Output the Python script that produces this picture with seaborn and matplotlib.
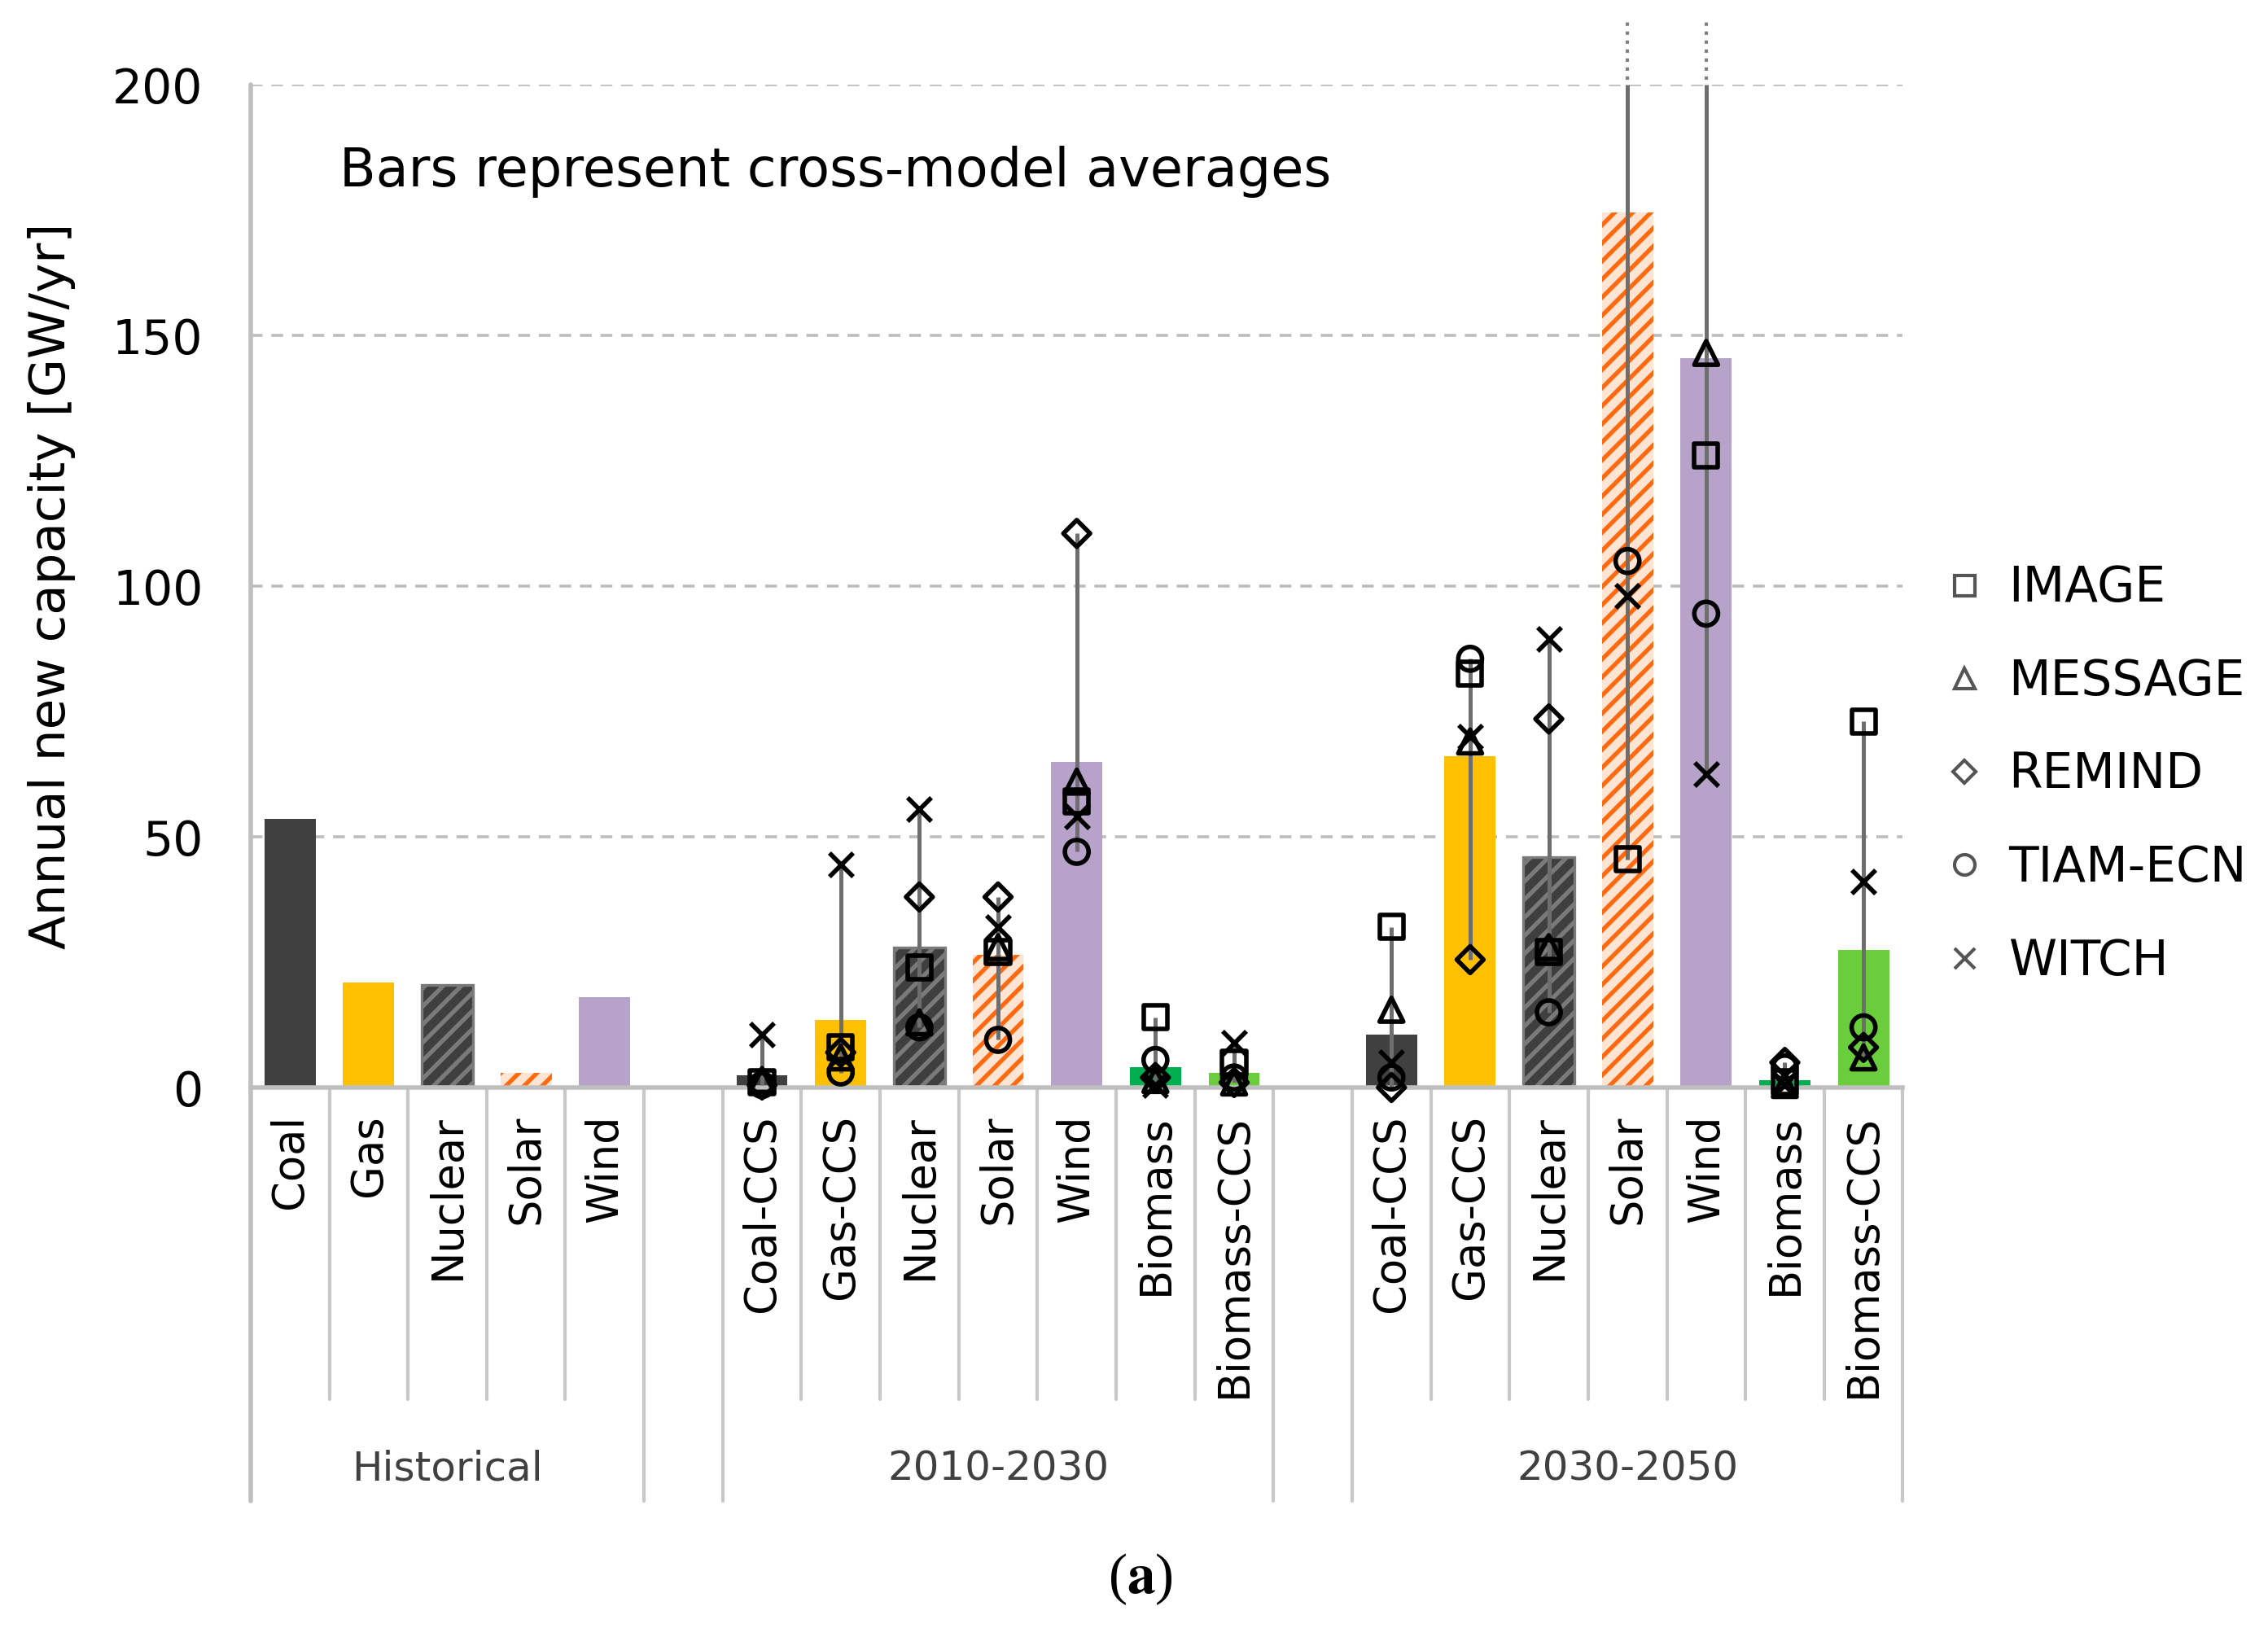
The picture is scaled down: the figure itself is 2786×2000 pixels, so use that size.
import numpy as np
import pandas as pd
import matplotlib
matplotlib.use("Agg")
import matplotlib.pyplot as plt
from matplotlib.lines import Line2D
import seaborn as sns

# categories per group
groups = ["Historical", "2010-2030", "2030-2050"]
hist_techs = ["Coal", "Gas", "Nuclear", "Solar", "Wind"]
scen_techs = ["Coal-CCS", "Gas-CCS", "Nuclear", "Solar", "Wind", "Biomass", "Biomass-CCS"]

# bar values (cross-model averages), GW/yr
hist_avg = [53.5, 21, 20.5, 3, 18]
avg_2030 = [2.5, 13.5, 28, 26.5, 65, 4, 3]
avg_2050 = [10.5, 66, 46, 174.5, 145.5, 1.5, 27.5]

models = ["IMAGE", "MESSAGE", "REMIND", "TIAM-ECN", "WITCH"]
# model values, order of scen_techs
image_2030 = [1, 8, 24, 27, 57, 14, 5]
message_2030 = [1.5, 6, 13, 28, 61, 1.5, 1]
remind_2030 = [0.5, 7, 38, 38, 110.5, 2, 1]
tiam_2030 = [0.5, 3, 12, 9.5, 47, 5.5, 2]
witch_2030 = [10.5, 44.5, 55.5, 32, 54, 0.5, 9]

image_2050 = [32, 82.5, 27, 45.5, 126, 1, 73]
message_2050 = [15.5, 69, 28, 290, 146.5, 0.5, 6]
remind_2050 = [0, 25.5, 73.5, 335, 298, 5, 8]
tiam_2050 = [2, 85.5, 15, 105, 94.5, 4, 12]
witch_2050 = [5, 70, 89.5, 98, 62.5, 0.5, 41]

tech_colors = {"Coal": "#404040", "Gas": "#FFC000", "Nuclear": "#3F3F3F",
               "Solar": "#FDE4D3", "Wind": "#B7A3C9", "Coal-CCS": "#404040",
               "Gas-CCS": "#FFC000", "Biomass": "#00B050", "Biomass-CCS": "#6ACD3C"}
model_markers = {"IMAGE": "s", "MESSAGE": "^", "REMIND": "D", "TIAM-ECN": "o", "WITCH": "x"}

# slot layout: historical, gap, 2010-2030, gap, 2030-2050
order, slot_tech = [], []
for t in hist_techs:
    order.append("Historical|" + t); slot_tech.append(t)
order.append("gap1"); slot_tech.append("")
for t in scen_techs:
    order.append("2010-2030|" + t); slot_tech.append(t)
order.append("gap2"); slot_tech.append("")
for t in scen_techs:
    order.append("2030-2050|" + t); slot_tech.append(t)

bar_df = pd.DataFrame({
    "slot": order[0:5] + order[6:13] + order[14:21],
    "value": hist_avg + avg_2030 + avg_2050,
})
bar_df["tech"] = [s.split("|")[1] for s in bar_df["slot"]]
pal = {s: tech_colors[s.split("|")[1]] for s in bar_df["slot"]}

model_vals = {
    "IMAGE": image_2030 + image_2050,
    "MESSAGE": message_2030 + message_2050,
    "REMIND": remind_2030 + remind_2050,
    "TIAM-ECN": tiam_2030 + tiam_2050,
    "WITCH": witch_2030 + witch_2050,
}
scen_slots = order[6:13] + order[14:21]
pts = pd.DataFrame([{"slot": s, "pos": order.index(s), "model": m, "value": model_vals[m][i]}
                    for m in models for i, s in enumerate(scen_slots)])

sns.set_style("white")
plt.rcParams["font.family"] = ["DejaVu Sans"]
plt.rcParams["text.color"] = "black"
plt.rcParams["axes.labelcolor"] = "black"
plt.rcParams["xtick.color"] = "black"
plt.rcParams["ytick.color"] = "black"
plt.rcParams["hatch.linewidth"] = 1.9

fig = plt.figure(figsize=(13.93, 10), dpi=200)
ax = fig.add_axes([0.1105, 0.332, 0.7285, 0.616])

sns.barplot(data=bar_df, x="slot", y="value", order=order, hue="slot", palette=pal,
            width=0.65, saturation=1, legend=False, ax=ax, zorder=2)

for p in ax.patches:
    idx = int(round(p.get_x() + p.get_width() / 2))
    tech = slot_tech[idx]
    p.set_linewidth(0)
    if tech == "Nuclear":
        p.set_hatch("///")
        p.set_edgecolor("#7A7A7A")
        p.set_linewidth(1.2)
    elif tech == "Solar":
        p.set_hatch("///")
        p.set_edgecolor("#FF6A10")

# min-max range lines
rng = pts.groupby("pos")["value"].agg(["min", "max"]).reset_index()
for _, r in rng.iterrows():
    ax.vlines(r["pos"], r["min"], min(r["max"], 200), color="#6E6E6E", lw=1.8, zorder=3)
    if r["max"] > 200:
        ax.vlines(r["pos"], 201, 213, color="#808080", lw=1.5, linestyles=":",
                  zorder=3, clip_on=False)

for m in models:
    d = pts[(pts["model"] == m) & (pts["value"] <= 200)]
    mk = model_markers[m]
    ax.scatter(d["pos"], d["value"], marker=mk,
               s=70 if mk == "D" else 110,
               facecolors="none" if mk != "x" else "black",
               edgecolors="black", linewidths=2.0, zorder=4, clip_on=False)

ax.set_xlim(-0.5, len(order) - 0.5)
ax.set_ylim(0, 200)
ax.set_yticks([0, 50, 100, 150, 200])
ax.set_yticklabels(["0", "50", "100", "150", "200"], fontsize=21)
ax.set_xticks(range(len(order)))
ax.set_xticklabels(slot_tech, rotation=90, fontsize=19, va="top")
ax.tick_params(axis="x", length=0, pad=12)
ax.tick_params(axis="y", length=7, width=1.5, color="#BFBFBF", labelcolor="black", pad=14)
ax.set_xlabel("")
ax.set_ylabel("Annual new capacity [GW/yr]", fontsize=22)
ax.yaxis.set_label_coords(-0.106, 0.5)
ax.grid(axis="y", color="#BDBDBD", lw=1.3, ls=(0, (4, 3)), zorder=0)
ax.set_axisbelow(True)
for sp in ["top", "right", "left"]:
    ax.spines[sp].set_visible(False)
ax.spines["bottom"].set_color("#BFBFBF")
ax.spines["bottom"].set_linewidth(2)
ax.spines["bottom"].set_zorder(2.5)

tr = ax.get_xaxis_transform()
# left axis line running down through the category area
ax.plot([-0.5, -0.5], [-0.412, 1], transform=tr, color="#BFBFBF", lw=2, clip_on=False)
group_edges = [4.5, 5.5, 12.5, 13.5, 20.5]
for x in group_edges:
    ax.plot([x, x], [-0.412, 0], transform=tr, color="#C8C8C8", lw=1.5, clip_on=False)
for k in list(range(0, 4)) + list(range(6, 12)) + list(range(14, 20)):
    ax.plot([k + 0.5, k + 0.5], [-0.311, 0], transform=tr, color="#C8C8C8", lw=1.5, clip_on=False)
for g, c in zip(groups, [2, 9, 17]):
    ax.text(c, -0.38, g, transform=tr, ha="center", va="center", fontsize=18, color="#404040")

ax.text(0.054, 0.913, "Bars represent cross-model averages", transform=ax.transAxes,
        fontsize=23.5, va="center", ha="left", color="black")

handles = [Line2D([], [], ls="none", marker=model_markers[m], markersize=9 if model_markers[m] != "D" else 7,
                  markerfacecolor="none", markeredgecolor="#555555", markeredgewidth=1.5)
           for m in models]
fig.legend(handles, models, loc="center left", bbox_to_anchor=(0.849, 0.524), frameon=False,
           fontsize=21.5, labelspacing=0.93, handlelength=0.8, handletextpad=0.5, borderaxespad=0,
           labelcolor="black")

plt.rcParams["mathtext.fontset"] = "stix"
fig.text(0.503, 0.03, r"($\mathbf{a}$)", ha="center", va="center", fontsize=25,
         family="Liberation Serif", color="black")

fig.savefig("out.png", dpi=200)
